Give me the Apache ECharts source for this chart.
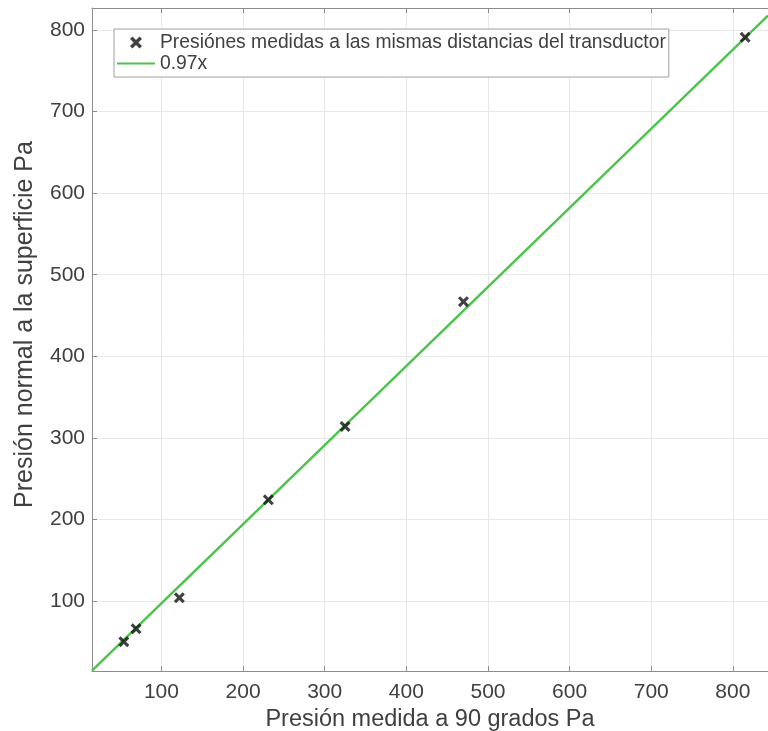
<!DOCTYPE html>
<html>
<head>
<meta charset="utf-8">
<style>
  html, body { margin: 0; padding: 0; background: #fff; }
  #chart { width: 768px; height: 731px; }
</style>
<script src="https://cdn.jsdelivr.net/npm/echarts@6/dist/echarts.min.js"></script>
</head>
<body>
<div id="chart"></div>
<script>
// Measured pressures: 90-degree reading vs. normal-to-surface reading (Pa)
const pressure90 = [54, 69, 122, 231, 325, 470, 815];
const pressureNormal = [50, 66, 104, 224, 314, 467, 791];

// Fitted proportional relation
const slope = 0.97;
const fitLabel = '0.97x';
const scatterLabel = 'Presiónes medidas a las mismas distancias del transductor';

// Axis ranges, tick positions and titles
const xRange = [15, 843];
const yRange = [14.2, 827];
const xTicks = [100, 200, 300, 400, 500, 600, 700, 800];
const yTicks = [100, 200, 300, 400, 500, 600, 700, 800];
const xTitle = 'Presión medida a 90 grados Pa';
const yTitle = 'Presión normal a la superficie Pa';

const scatterData = pressure90.map((x, i) => [x, pressureNormal[i]]);
const fitData = xRange.map(x => [x, slope * x]);

const font = '"Liberation Sans", Arial, Helvetica, sans-serif';
const crossPath = 'path://M0,2L2,0L5,3L8,0L10,2L7,5L10,8L8,10L5,7L2,10L0,8L3,5Z';
const lineIcon = 'path://M0,0L40,0L40,2L0,2Z';
const textColor = '#404040';
const fitColor = '#4cc44c';

const gridLine = { show: true, lineStyle: { color: '#e8e8e8', width: 1 } };
const axisLine = { show: true, onZero: false, lineStyle: { color: '#8c8c8c', width: 1 } };
const tickStyle = { show: true, inside: true, length: 5, lineStyle: { color: '#8c8c8c' } };

const chart = echarts.init(document.getElementById('chart'), null, { renderer: 'canvas' });
chart.setOption({
  animation: false,
  backgroundColor: '#ffffff',
  grid: {
    left: 92, right: 0, top: 8, bottom: 60,
    containLabel: false,
    outerBoundsMode: 'none'
  },
  legend: {
    orient: 'vertical',
    left: 114,
    top: 29,
    backgroundColor: '#ffffff',
    borderColor: '#a0a0a0',
    borderWidth: 1,
    borderRadius: 0,
    padding: [4, 3, 4, 3],
    itemWidth: 38,
    itemHeight: 12,
    itemGap: 2,
    textStyle: { fontFamily: font, fontSize: 19.3, color: textColor },
    data: [
      { name: scatterLabel },
      { name: fitLabel, icon: lineIcon, itemStyle: { color: fitColor } }
    ]
  },
  xAxis: [{
    type: 'value',
    min: xRange[0],
    max: xRange[1],
    position: 'bottom',
    axisLine,
    axisTick: Object.assign({ customValues: xTicks }, tickStyle),
    splitLine: gridLine,
    axisLabel: {
      customValues: xTicks,
      fontFamily: font, fontSize: 21, color: textColor, margin: 11
    },
    name: xTitle,
    nameLocation: 'middle',
    nameGap: 34,
    nameTextStyle: { fontFamily: font, fontSize: 23.5, color: textColor }
  }, {
    type: 'value',
    min: xRange[0],
    max: xRange[1],
    position: 'top',
    axisLine,
    axisTick: Object.assign({ customValues: xTicks }, tickStyle),
    splitLine: { show: false },
    axisLabel: { show: false }
  }],
  yAxis: {
    type: 'value',
    min: yRange[0],
    max: yRange[1],
    axisLine,
    axisTick: Object.assign({ customValues: yTicks }, tickStyle),
    splitLine: gridLine,
    axisLabel: {
      customValues: yTicks,
      fontFamily: font, fontSize: 21, color: textColor, margin: 7
    },
    name: yTitle,
    nameLocation: 'middle',
    nameGap: 54,
    nameTextStyle: {
      fontFamily: font, fontSize: 25, color: textColor,
      padding: [0, 0, 0, 30]
    }
  },
  series: [{
    name: scatterLabel,
    type: 'scatter',
    data: scatterData,
    symbol: crossPath,
    symbolSize: 11,
    itemStyle: { color: '#111111' },
    z: 3
  }, {
    name: fitLabel,
    type: 'line',
    data: fitData,
    showSymbol: false,
    symbol: 'none',
    lineStyle: { color: fitColor, width: 2.5 },
    itemStyle: { color: fitColor },
    z: 2
  }]
});
</script>
</body>
</html>
